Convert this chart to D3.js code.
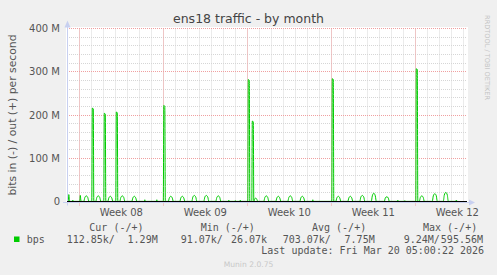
<!DOCTYPE html>
<html>
<head>
<meta charset="utf-8">
<script src="https://cdn.jsdelivr.net/npm/d3@7"></script>
<style>
    html, body { margin: 0; padding: 0; background: #f0f0f0; }
    svg { display: block; }
    .sans { font-family: "DejaVu Sans", sans-serif; }
    .mono { font-family: "DejaVu Sans Mono", monospace; }
</style>
</head>
<body>
<div id="chart"></div>
<script>
const WIDTH = 497;
const HEIGHT = 275;
const PLOT = { left: 67, right: 467, top: 28.5, bottom: 201.5 };

const TITLE = 'ens18 traffic - by month';
const Y_LABEL = 'bits in (-) / out (+) per second';

// time window shown (local time)
const timeStart = '2026-02-14 23:24';
const timeEnd = '2026-03-20 07:24';

const yTickValues = [0, 100e6, 200e6, 300e6, 400e6];
const yTickLabels = ['0', '100 M', '200 M', '300 M', '400 M'];
const yMinorStep = 20e6;

const weekStarts = ['2026-02-16', '2026-02-23', '2026-03-02', '2026-03-09', '2026-03-16'];
const weekLabels = ['Week 08', 'Week 09', 'Week 10', 'Week 11', 'Week 12'];

// out (+) traffic, Mbit/s
const outSeries = [
    ['02-15 00', 0.3],
    ['02-15 02', 0.3], ['02-15 03', 16], ['02-15 04', 5], ['02-15 05', 0.3],
    ['02-15 10', 0.3], ['02-15 11', 3], ['02-15 12', 0.3],
    ['02-16 01', 0.3], ['02-16 02', 14], ['02-16 03', 4], ['02-16 04', 0.3],
    ['02-16 09', 0.3], ['02-16 11', 9], ['02-16 14', 13], ['02-16 17', 9], ['02-16 19', 0.3],
    ['02-17 01', 0.3], ['02-17 02', 216], ['02-17 04', 214], ['02-17 05', 0.3],
    ['02-17 09', 0.3], ['02-17 11', 9], ['02-17 14', 13], ['02-17 17', 9], ['02-17 19', 0.3],
    ['02-18 01', 0.3], ['02-18 02', 204], ['02-18 04', 202], ['02-18 05', 0.3],
    ['02-18 09', 0.3], ['02-18 11', 8], ['02-18 14', 12], ['02-18 17', 8], ['02-18 19', 0.3],
    ['02-19 01', 0.3], ['02-19 02', 207], ['02-19 04', 205], ['02-19 05', 0.3],
    ['02-19 09', 0.3], ['02-19 11', 9], ['02-19 14', 13], ['02-19 17', 9], ['02-19 19', 0.3],
    ['02-20 09', 0.3], ['02-20 11', 8], ['02-20 14', 12], ['02-20 17', 8], ['02-20 19', 0.3],
    ['02-21 10', 0.3], ['02-21 11', 4], ['02-21 12', 0.3],
    ['02-22 10', 0.3], ['02-22 11', 4], ['02-22 12', 0.3],
    ['02-23 00', 0.3], ['02-23 01', 222], ['02-23 03', 220], ['02-23 04', 0.3],
    ['02-23 10', 0.3], ['02-23 12', 8], ['02-23 15', 12], ['02-23 18', 8], ['02-23 20', 0.3],
    ['02-24 09', 0.3], ['02-24 11', 8], ['02-24 14', 12], ['02-24 17', 8], ['02-24 19', 0.3],
    ['02-25 09', 0.3], ['02-25 11', 10], ['02-25 14', 14], ['02-25 17', 10], ['02-25 19', 0.3],
    ['02-26 09', 0.3], ['02-26 11', 10], ['02-26 14', 14], ['02-26 17', 10], ['02-26 19', 0.3],
    ['02-27 09', 0.3], ['02-27 11', 9], ['02-27 14', 13], ['02-27 17', 9], ['02-27 19', 0.3],
    ['02-28 10', 0.3], ['02-28 11', 3], ['02-28 12', 0.3],
    ['02-28 23', 0.3], ['03-01 00', 2], ['03-01 01', 0.3],
    ['03-01 09', 0.3], ['03-01 10', 3], ['03-01 11', 0.3],
    ['03-02 01', 0.3], ['03-02 02', 282], ['03-02 04', 280], ['03-02 05', 0.3],
    ['03-02 09', 0.3], ['03-02 10', 186], ['03-02 12', 184], ['03-02 13', 0.3],
    ['03-02 15', 6], ['03-02 17', 8], ['03-02 19', 5], ['03-02 21', 0.3],
    ['03-03 09', 0.3], ['03-03 11', 9], ['03-03 14', 13], ['03-03 17', 9], ['03-03 19', 0.3],
    ['03-04 09', 0.3], ['03-04 11', 8], ['03-04 14', 12], ['03-04 17', 8], ['03-04 19', 0.3],
    ['03-05 09', 0.3], ['03-05 11', 9], ['03-05 14', 13], ['03-05 17', 9], ['03-05 19', 0.3],
    ['03-06 09', 0.3], ['03-06 11', 8], ['03-06 14', 12], ['03-06 17', 8], ['03-06 19', 0.3],
    ['03-07 10', 0.3], ['03-07 11', 4], ['03-07 12', 0.3],
    ['03-09 01', 0.3], ['03-09 02', 284], ['03-09 04', 282], ['03-09 05', 0.3],
    ['03-09 09', 0.3], ['03-09 11', 8], ['03-09 14', 12], ['03-09 17', 8], ['03-09 19', 0.3],
    ['03-10 09', 0.3], ['03-10 11', 8], ['03-10 14', 12], ['03-10 17', 8], ['03-10 19', 0.3],
    ['03-11 09', 0.3], ['03-11 11', 10], ['03-11 14', 14], ['03-11 17', 10], ['03-11 19', 0.3],
    ['03-12 08', 0.3], ['03-12 10', 13], ['03-12 13', 19], ['03-12 16', 13], ['03-12 18', 0.3],
    ['03-13 10', 0.3], ['03-13 12', 8], ['03-13 15', 11], ['03-13 18', 8], ['03-13 20', 0.3],
    ['03-14 12', 0.3], ['03-14 13', 3], ['03-14 14', 0.3],
    ['03-15 02', 0.3], ['03-15 03', 2], ['03-15 04', 0.3],
    ['03-16 01', 0.3], ['03-16 02', 307], ['03-16 04', 305], ['03-16 05', 0.3],
    ['03-16 08', 0.3], ['03-16 10', 9], ['03-16 13', 13], ['03-16 16', 9], ['03-16 18', 0.3],
    ['03-17 10', 0.3], ['03-17 12', 13], ['03-17 15', 18], ['03-17 18', 13], ['03-17 20', 0.3],
    ['03-18 08', 0.3], ['03-18 10', 15], ['03-18 13', 21], ['03-18 16', 15], ['03-18 18', 0.3],
    ['03-19 09', 0.3], ['03-19 10', 3], ['03-19 11', 0.3],
    ['03-19 14', 0.3]
];

const legendHeaders = ['Cur (-/+)', 'Min (-/+)', 'Avg (-/+)', 'Max (-/+)'];
const legendName = 'bps';
const legendValues = [
    ['112.85k/', '1.29M'],
    ['91.07k/', '26.07k'],
    ['703.07k/', '7.75M'],
    ['9.24M/', '595.56M']
];
const LAST_UPDATE = 'Last update: Fri Mar 20 05:00:22 2026';
const VERSION = 'Munin 2.0.75';
const WATERMARK = 'RRDTOOL / TOBI OETIKER';

const COLOR_OUT = '#00cc00';

const parseTime = d3.timeParse('%Y-%m-%d %H:%M');
const parseDay = d3.timeParse('%Y-%m-%d');

const svg = d3.select('#chart').append('svg')
    .attr('width', WIDTH)
    .attr('height', HEIGHT);

svg.append('rect')
    .attr('width', WIDTH).attr('height', HEIGHT)
    .attr('fill', '#f0f0f0');

const x = d3.scaleTime()
    .domain([parseTime(timeStart), parseTime(timeEnd)])
    .range([PLOT.left, PLOT.right]);

const y = d3.scaleLinear()
    .domain([0, 400e6])
    .range([PLOT.bottom, PLOT.top]);

// canvas
svg.append('rect')
    .attr('x', PLOT.left - 1)
    .attr('y', PLOT.top - 1.5)
    .attr('width', PLOT.right - PLOT.left + 2)
    .attr('height', PLOT.bottom - PLOT.top + 3)
    .attr('fill', '#ffffff');

const snap = v => Math.floor(v) + 0.5;

// minor grid
const grid = svg.append('g').attr('stroke-dasharray', '1,1').attr('stroke-width', 1);

const dayLines = d3.timeDay.range(x.domain()[0], x.domain()[1])
    .filter(d => x(d) > PLOT.left + 2);
grid.selectAll('.vminor')
    .data(dayLines)
    .join('line')
    .attr('x1', d => snap(x(d))).attr('x2', d => snap(x(d)))
    .attr('y1', PLOT.top).attr('y2', PLOT.bottom)
    .attr('stroke', '#d6d6d6');

const yMinor = d3.range(yMinorStep, 400e6 + 1, yMinorStep).filter(v => v % 100e6 !== 0);
grid.selectAll('.hminor')
    .data(yMinor)
    .join('line')
    .attr('x1', PLOT.left).attr('x2', PLOT.right)
    .attr('y1', d => snap(y(d))).attr('y2', d => snap(y(d)))
    .attr('stroke', '#d6d6d6');

// major grid
const weeks = weekStarts.map(parseDay);
grid.selectAll('.vmajor')
    .data(weeks)
    .join('line')
    .attr('x1', d => snap(x(d))).attr('x2', d => snap(x(d)))
    .attr('y1', PLOT.top).attr('y2', PLOT.bottom + 4)
    .attr('stroke', '#f0a0a0');

grid.selectAll('.hmajor')
    .data(yTickValues.filter(v => v > 0))
    .join('line')
    .attr('x1', PLOT.left).attr('x2', PLOT.right)
    .attr('y1', d => snap(y(d))).attr('y2', d => snap(y(d)))
    .attr('stroke', '#f0a0a0');

// out series
const points = outSeries.map(([t, v]) => ({ date: parseTime(`2026-${t}:00`), value: v * 1e6 }));
const line = d3.line()
    .x(d => x(d.date))
    .y(d => y(d.value))
    .curve(d3.curveMonotoneX);

svg.append('path')
    .datum(points)
    .attr('fill', 'none')
    .attr('stroke', COLOR_OUT)
    .attr('stroke-width', 1)
    .attr('d', line);

// axes
const axisColor = '#c8d0f0';
svg.append('line')
    .attr('x1', PLOT.left - 4).attr('x2', PLOT.right + 3)
    .attr('y1', PLOT.bottom + 1).attr('y2', PLOT.bottom + 1)
    .attr('stroke', axisColor);
svg.append('path')
    .attr('d', `M${PLOT.right + 2},${PLOT.bottom - 2} L${PLOT.right + 8},${PLOT.bottom + 1} L${PLOT.right + 2},${PLOT.bottom + 4} Z`)
    .attr('fill', axisColor);
svg.append('line')
    .attr('x1', PLOT.left + 0.5).attr('x2', PLOT.left + 0.5)
    .attr('y1', PLOT.bottom + 4).attr('y2', PLOT.top - 2)
    .attr('stroke', axisColor);
svg.append('path')
    .attr('d', `M${PLOT.left - 2.5},${PLOT.top - 1} L${PLOT.left + 0.5},${PLOT.top - 8} L${PLOT.left + 3.5},${PLOT.top - 1} Z`)
    .attr('fill', axisColor);

// zero line
svg.append('line')
    .attr('x1', PLOT.left).attr('x2', PLOT.right)
    .attr('y1', y(0)).attr('y2', y(0))
    .attr('stroke', '#000000');

// y tick labels
svg.append('g')
    .attr('class', 'sans')
    .selectAll('text')
    .data(yTickValues)
    .join('text')
    .attr('x', PLOT.left - 7)
    .attr('y', d => y(d) + 3.5)
    .attr('text-anchor', 'end')
    .attr('font-size', 10)
    .attr('fill', '#555')
    .text((d, i) => yTickLabels[i]);

// week labels
svg.append('g')
    .attr('class', 'sans')
    .selectAll('text')
    .data(weeks)
    .join('text')
    .attr('x', d => x(d3.timeHour.offset(d, 84)))
    .attr('y', 216)
    .attr('text-anchor', 'middle')
    .attr('font-size', 10)
    .attr('fill', '#555')
    .text((d, i) => weekLabels[i]);

// title
svg.append('text')
    .attr('class', 'sans')
    .attr('x', WIDTH / 2)
    .attr('y', 23)
    .attr('text-anchor', 'middle')
    .attr('font-size', 12.5)
    .attr('fill', '#444')
    .text(TITLE);

// y label
svg.append('text')
    .attr('class', 'sans')
    .attr('transform', `translate(15.5, ${(PLOT.top + PLOT.bottom) / 2}) rotate(-90)`)
    .attr('text-anchor', 'middle')
    .attr('font-size', 10.8)
    .attr('fill', '#555')
    .text(Y_LABEL);

// watermark
svg.append('text')
    .attr('class', 'sans')
    .attr('transform', 'translate(485, 57.5) rotate(90)')
    .attr('text-anchor', 'middle')
    .attr('font-size', 6.6)
    .attr('fill', '#c4c4c4')
    .text(WATERMARK);

// legend
const legend = svg.append('g')
    .attr('class', 'mono')
    .attr('font-size', 10)
    .attr('fill', '#555');

const headerX = [89.3, 200.7, 312, 423];
legend.selectAll('.hdr')
    .data(legendHeaders)
    .join('text')
    .attr('x', (d, i) => headerX[i])
    .attr('y', 231)
    .text(d => d);

legend.append('rect')
    .attr('x', 14).attr('y', 236.5)
    .attr('width', 5.5).attr('height', 5.5)
    .attr('fill', COLOR_OUT);

legend.append('text')
    .attr('x', 26.7).attr('y', 243)
    .text(legendName);

const inStartX = [66.7, 180.7, 282.7, 403.7];
const outEndX = [157.7, 267, 374.7, 483];
legend.selectAll('.vin')
    .data(legendValues)
    .join('text')
    .attr('x', (d, i) => inStartX[i])
    .attr('y', 243)
    .text(d => d[0]);
legend.selectAll('.vout')
    .data(legendValues)
    .join('text')
    .attr('x', (d, i) => outEndX[i])
    .attr('y', 243)
    .attr('text-anchor', 'end')
    .text(d => d[1]);

legend.append('text')
    .attr('x', 261.3).attr('y', 254)
    .text(LAST_UPDATE);

svg.append('text')
    .attr('class', 'sans')
    .attr('x', WIDTH / 2)
    .attr('y', 266.5)
    .attr('text-anchor', 'middle')
    .attr('font-size', 7.6)
    .attr('fill', '#c8c8c8')
    .text(VERSION);
</script>
</body>
</html>
